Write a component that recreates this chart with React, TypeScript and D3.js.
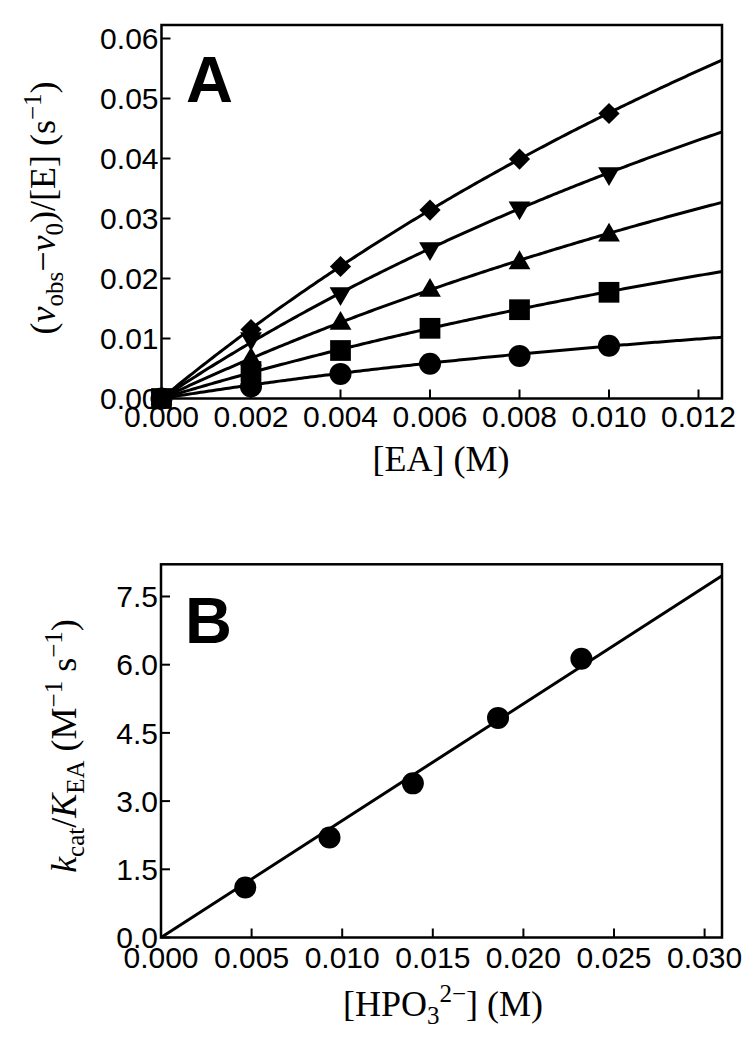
import React from "react";
import * as d3 from "d3";

// ---------- Panel A data ----------
const eaConc = [0, 0.002, 0.004, 0.006, 0.008, 0.010];
const seriesNames = ["circle", "square", "triUp", "triDown", "diamond"];
const circleVals = [0, 0.0020, 0.0041, 0.0058, 0.0071, 0.0088];
const squareVals = [0, 0.0045, 0.0080, 0.0117, 0.0148, 0.0177];
const triUpVals = [0, 0.0065, 0.0125, 0.0180, 0.0226, 0.0272];
const triDownVals = [0, 0.0100, 0.0175, 0.0250, 0.0318, 0.0375];
const diamondVals = [0, 0.0115, 0.0220, 0.0314, 0.0399, 0.0475];
// hyperbolic fit parameters per series: [Vmax, K]
const fitVmax = [0.03117, 0.08254, 0.126, 0.1558, 0.2102];
const fitK = [0.0257, 0.03633, 0.03576, 0.0314, 0.03416];
const xTicksA = [0, 0.002, 0.004, 0.006, 0.008, 0.010, 0.012];
const yTicksA = [0, 0.01, 0.02, 0.03, 0.04, 0.05, 0.06];

// ---------- Panel B data ----------
const hpoConc = [0.00465, 0.0093, 0.0139, 0.0186, 0.0232];
const kcatVals = [1.1, 2.2, 3.39, 4.83, 6.13];
const fitSlopeB = 257;
const xTicksB = [0, 0.005, 0.010, 0.015, 0.020, 0.025, 0.030];
const yTicksB = [0, 1.5, 3.0, 4.5, 6.0, 7.5];

const SANS = "'Liberation Sans', Arial, sans-serif";
const SERIF = "'Liberation Serif', 'Times New Roman', serif";

const allVals = [circleVals, squareVals, triUpVals, triDownVals, diamondVals];

function markerPath(name: string) {
  const sym = d3.symbol();
  if (name === "circle") return { d: sym.type(d3.symbolCircle).size(380)()!, rot: 0 };
  if (name === "square") return { d: sym.type(d3.symbolSquare).size(430)()!, rot: 0 };
  if (name === "triUp") return { d: sym.type(d3.symbolTriangle).size(205)()!, rot: 0 };
  if (name === "triDown") return { d: sym.type(d3.symbolTriangle).size(205)()!, rot: 180 };
  return { d: sym.type(d3.symbolSquare).size(225)()!, rot: 45 };
}

function Frame({ x, y }: { x: any; y: any }) {
  const [x0, x1] = x.range();
  const [y0, y1] = y.range();
  return (
    <rect x={x0} y={y1} width={x1 - x0} height={y0 - y1} fill="none" stroke="#000" strokeWidth={2.5} />
  );
}

function Ticks({ x, y, xt, yt, xfmt, yfmt, xLabelY }: any) {
  const [x0] = x.range();
  const [y0] = y.range();
  return (
    <g>
      {xt.map((t: number, i: number) => (
        <g key={"x" + i}>
          <line x1={x(t)} x2={x(t)} y1={y0} y2={y0 - 9} stroke="#000" strokeWidth={2} />
          <text x={x(t)} y={xLabelY} textAnchor="middle" fontFamily={SANS} fontSize={30} fill="#000">
            {xfmt(t)}
          </text>
        </g>
      ))}
      {yt.map((t: number, i: number) => (
        <g key={"y" + i}>
          <line x1={x0} x2={x0 + 9} y1={y(t)} y2={y(t)} stroke="#000" strokeWidth={2} />
          <text x={x0 - 3} y={y(t) + 10.7} textAnchor="end" fontFamily={SANS} fontSize={30} fill="#000">
            {yfmt(t)}
          </text>
        </g>
      ))}
    </g>
  );
}

export default function App() {
  // Panel A scales
  const xA = d3.scaleLinear().domain([0, 0.012525]).range([161.5, 722]);
  const yA = d3.scaleLinear().domain([0, 0.06225]).range([398.5, 25]);
  // Panel B scales
  const xB = d3.scaleLinear().domain([0, 0.03096]).range([161, 722]);
  const yB = d3.scaleLinear().domain([0, 8.208]).range([937.5, 564.3]);

  const curveXs = d3.range(0, 201).map((i) => (i / 200) * xA.domain()[1]);
  const lineA = d3
    .line<number[]>()
    .x((d) => xA(d[0]))
    .y((d) => yA(d[1]))
    .curve(d3.curveLinear);

  const lineB = d3
    .line<number>()
    .x((d) => xB(d))
    .y((d) => yB(fitSlopeB * d));

  return (
    <svg
      width={754}
      height={1050}
      style={{ position: "absolute", left: 0, top: 0, background: "#fff" }}
    >
      <rect x={0} y={0} width={754} height={1050} fill="#fff" />
      {/* ---------------- Panel A ---------------- */}
      <Frame x={xA} y={yA} />
      <Ticks
        x={xA}
        y={yA}
        xt={xTicksA}
        yt={yTicksA}
        xfmt={d3.format(".3f")}
        yfmt={d3.format(".2f")}
        xLabelY={427}
      />
      {seriesNames.map((name, si) => (
        <path
          key={"fit" + name}
          d={lineA(curveXs.map((cx) => [cx, (fitVmax[si] * cx) / (fitK[si] + cx)]))!}
          fill="none"
          stroke="#000"
          strokeWidth={3}
        />
      ))}
      {seriesNames.map((name, si) => {
        const m = markerPath(name);
        return (
          <g key={"pts" + name}>
            {eaConc.map((c, i) => (
              <path
                key={i}
                d={m.d}
                transform={`translate(${xA(c)},${yA(allVals[si][i])}) rotate(${m.rot})`}
                fill="#000"
              />
            ))}
          </g>
        );
      })}
      <text x={186} y={102} fontFamily={SANS} fontWeight="bold" fontSize={65} fill="#000">
        A
      </text>
      <text x={441} y={471} textAnchor="middle" fontFamily={SERIF} fontSize={36} fill="#000">
        [EA] (M)
      </text>
      <text
        transform="translate(55,208) rotate(-90)"
        textAnchor="middle"
        fontFamily={SERIF}
        fontSize={36}
        fill="#000"
      >
        (<tspan fontStyle="italic">v</tspan>
        <tspan fontSize={25} dy={8}>obs</tspan>
        <tspan dy={-8}>−</tspan>
        <tspan fontStyle="italic">v</tspan>
        <tspan fontSize={25} dy={8}>0</tspan>
        <tspan dy={-8}>)/[E] (s</tspan>
        <tspan fontSize={25} dy={-14}>−1</tspan>
        <tspan dy={14}>)</tspan>
      </text>

      {/* ---------------- Panel B ---------------- */}
      <Frame x={xB} y={yB} />
      <Ticks
        x={xB}
        y={yB}
        xt={xTicksB}
        yt={yTicksB}
        xfmt={d3.format(".3f")}
        yfmt={d3.format(".1f")}
        xLabelY={968}
      />
      <path d={lineB([0, xB.domain()[1]])!} fill="none" stroke="#000" strokeWidth={3} />
      {hpoConc.map((c, i) => (
        <path
          key={"b" + i}
          d={d3.symbol().type(d3.symbolCircle).size(380)()!}
          transform={`translate(${xB(c)},${yB(kcatVals[i])})`}
          fill="#000"
        />
      ))}
      <text x={185} y={643} fontFamily={SANS} fontWeight="bold" fontSize={65} fill="#000">
        B
      </text>
      <text x={443} y={1016} textAnchor="middle" fontFamily={SERIF} fontSize={36} fill="#000">
        [HPO
        <tspan fontSize={25} dy={8}>3</tspan>
        <tspan fontSize={25} dy={-22}>2−</tspan>
        <tspan dy={14}>] (M)</tspan>
      </text>
      <text
        transform="translate(76,746) rotate(-90)"
        textAnchor="middle"
        fontFamily={SERIF}
        fontSize={36}
        fill="#000"
      >
        <tspan fontStyle="italic">k</tspan>
        <tspan fontSize={25} dy={8}>cat</tspan>
        <tspan dy={-8}>/</tspan>
        <tspan fontStyle="italic">K</tspan>
        <tspan fontSize={25} dy={8}>EA</tspan>
        <tspan dy={-8}> (M</tspan>
        <tspan fontSize={25} dy={-14}>−1</tspan>
        <tspan dy={14}> s</tspan>
        <tspan fontSize={25} dy={-14}>−1</tspan>
        <tspan dy={14}>)</tspan>
      </text>
    </svg>
  );
}
